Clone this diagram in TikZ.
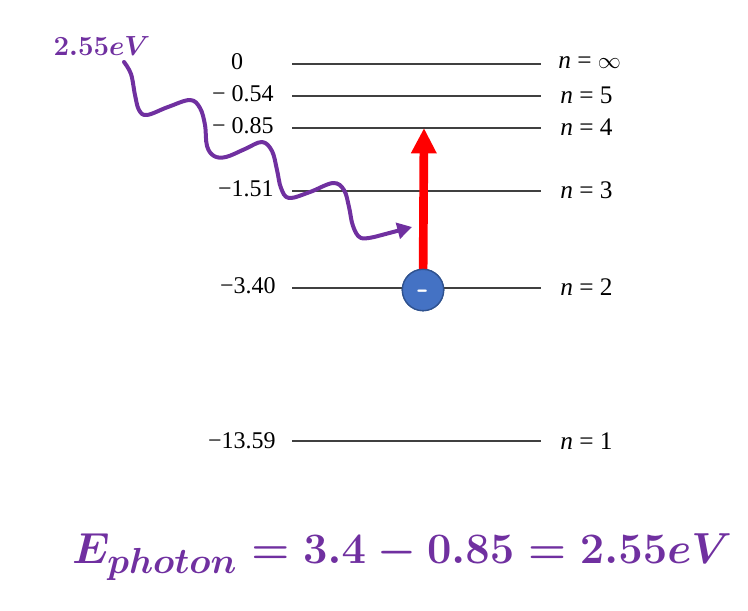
\documentclass[tikz,border=0pt]{standalone}
\usepackage[no-math]{fontspec}
\usepackage{graphicx}
\setmainfont{Liberation Serif}
\usetikzlibrary{arrows.meta}
\definecolor{ppl}{HTML}{7030A0}
\definecolor{eblue}{HTML}{4472C4}
\definecolor{eedge}{HTML}{2F528F}
\begin{document}
\begin{tikzpicture}[x=0.75pt,y=-0.75pt,
  lvl/.style={line width=1.3pt, draw=black!75},
  elab/.style={font={\fontsize{18}{20}\selectfont}, anchor=east, inner sep=0},
  nlab/.style={font={\fontsize{19}{21}\selectfont}, anchor=west, inner sep=0},
  wave/.style={draw=ppl, line width=3pt, line cap=round, line join=round},
  jump/.style={draw=red, line width=6.5pt},
  electron/.style={circle, fill=eblue, draw=eedge, line width=1pt, minimum size=31pt, inner sep=0},
  charge/.style={inner sep=0, text=white, font={\sffamily\bfseries\fontsize{24}{24}\selectfont}},
  purpletext/.style={text=ppl, inner sep=0},
  smalleq/.style={font={\fontsize{22}{24}\selectfont\boldmath}},
  bigeq/.style={font={\fontsize{24.88}{28}\selectfont\boldmath}}
]
\useasboundingbox (0,0) rectangle (748,610);

% energy levels
\foreach \nm/\yy in {inf/64, five/96, four/128, three/191, two/288, one/441}{
  \coordinate (\nm L) at (292,\yy);
  \coordinate (\nm R) at (541,\yy);
  \draw[lvl] (\nm L) -- (\nm R);
}

% energy labels
\node[elab, anchor=center] (einf) at (237,62) {0};
\node[elab] (efive) at (274,94) {− 0.54};
\node[elab] (efour) at (274,126) {− 0.85};
\node[elab] (ethree) at (274,189) {−1.51};
\node[elab] (etwo) at (276,286) {−3.40};
\node[elab] (eone) at (276,441) {−13.59};

% quantum number labels
\node[nlab] (ninf) at (558,63) {\textit{n} = $\infty$};
\node[nlab] (nfive) at (560,95) {\textit{n} = 5};
\node[nlab] (nfour) at (560,127) {\textit{n} = 4};
\node[nlab] (nthree) at (560,190) {\textit{n} = 3};
\node[nlab] (ntwo) at (560,287) {\textit{n} = 2};
\node[nlab] (nlvlone) at (560,441) {\textit{n} = 1};

% photon
\node[purpletext, smalleq] (plab) at (102,46) {$2.55eV$};
\coordinate (wtip) at (412,227);
\draw[wave, -{Triangle[length=11pt,width=12pt]}] plot[smooth, tension=0.6] coordinates {
  (124,62) (131,74) (135,95) (139,110) (147,115) (168,107) (190,100) (200,108)
  (205,125) (207,146) (214,156) (226,157) (245,149) (262,142) (272,151)
  (277,170) (281,188) (289,198) (310,192) (333,183) (344,190) (349,207)
  (353,226) (361,238) (378,236)} -- (wtip);

% excitation
\coordinate (tip) at (424,128);
\node[electron] (e) at (423,290) {};
\draw[jump, -{Triangle[length=19pt,width=18pt]}] (e.center) -- (tip);
\node[electron] (e2) at (e) {};
\node[charge] (minus) at ([yshift=-3.5pt]e2.center) {-};

% equation
\node[purpletext, bigeq] (eq) at (402,557) {\scalebox{1.31}{$E_{photon}=3.4-0.85=2.55eV$}};
\end{tikzpicture}
\end{document}
